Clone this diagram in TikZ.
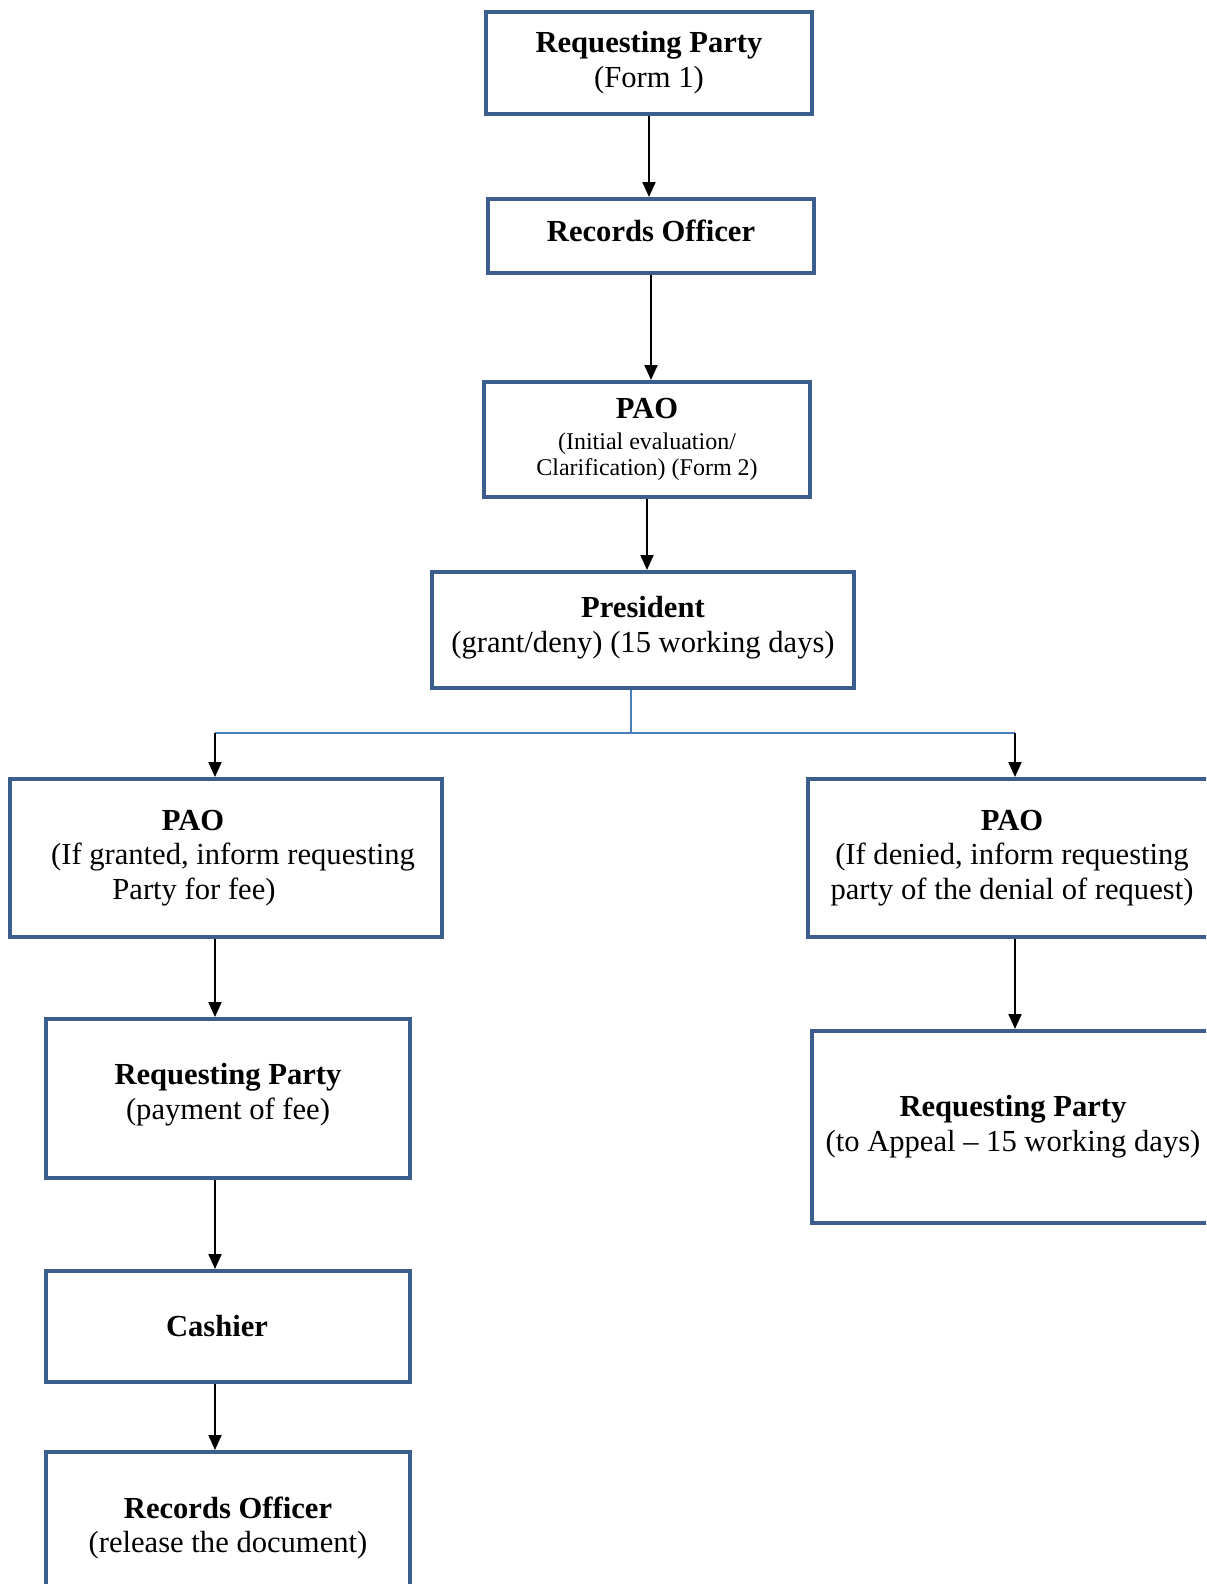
\documentclass[tikz,border=0pt]{standalone}
\usepackage{fontspec}
\setmainfont{Liberation Serif}
\usepackage{xcolor}
\usepackage{tikz}
\usetikzlibrary{arrows.meta}

\definecolor{boxblue}{RGB}{59,94,140}
\definecolor{lineblue}{RGB}{74,126,187}

\begin{document}
\begin{tikzpicture}[
    x=0.5pt, y=-0.5pt,
    font=\fontsize{15.3}{17.4}\selectfont,
    block/.style={draw=boxblue, line width=2pt, rectangle, align=center, inner sep=2pt},
    arr/.style={-{Triangle[width=6.5pt,length=7.5pt]}, line width=1pt},
    branch/.style={draw=lineblue, line width=0.6pt}
]

% page frame
\clip (0,0) rectangle (1206,1584);

% main column
\node[block, minimum width=163pt, minimum height=51pt] (req) at (649,63)
    {\textbf{Requesting Party}\\(Form 1)};
\node[block, minimum width=163pt, minimum height=37pt] (rec) at (651,236)
    {\textbf{Records Officer}\\[-12pt]};
\node[block, minimum width=163pt, minimum height=57.5pt] (pao) at (647,439.5)
    {\textbf{PAO}\\[-2pt]{\fontsize{12}{13.2}\selectfont (Initial evaluation/}\\[-4pt]{\fontsize{12}{13.2}\selectfont Clarification) (Form 2)}};
\node[block, minimum width=211pt, minimum height=58pt] (pres) at (643,630)
    {\textbf{President}\\(grant/deny) (15 working days)\\[-12pt]};

% branch points
\coordinate (split) at (631,733);
\coordinate (lx) at (215,733);
\coordinate (rx) at (1015,733);

% granted side
\node[block, minimum width=216pt, minimum height=79pt] (paoyes) at (226,858)
    {\textbf{PAO}\hspace*{33pt}\\\hspace*{7pt}(If granted, inform requesting\\Party for fee)\hspace*{32pt}};
\node[block, minimum width=182pt, minimum height=79.5pt] (pay) at (228,1098.5)
    {\textbf{Requesting Party}\\(payment of fee)\\[-10pt]};
\node[block, minimum width=182pt, minimum height=55.5pt] (cash) at (228,1326.5)
    {\textbf{Cashier}\hspace*{11pt}};
\node[block, minimum width=182pt, minimum height=76pt] (release) at (228,1528)
    {\textbf{Records Officer}\\(release the document)};

% denied side
\node[block, minimum width=204pt, minimum height=79pt] (paono) at (1012,858)
    {\textbf{PAO}\\(If denied, inform requesting\\party of the denial of request)};
\node[block, minimum width=201pt, minimum height=96pt] (appeal) at (1013,1127)
    {\textbf{Requesting Party}\\(to Appeal -- 15 working days)};

% arrows
\draw[arr] (req.south) -- (req.south |- rec.north);
\draw[arr] (rec.south) -- (rec.south |- pao.north);
\draw[arr] (pao.south) -- (pao.south |- pres.north);

\draw[branch] (pres.south -| split) -- (split);
\draw[branch] (lx) -- (rx);
\draw[arr] (lx) -- (lx |- paoyes.north);
\draw[arr] (rx) -- (rx |- paono.north);

\draw[arr] (paoyes.south -| lx) -- (pay.north -| lx);
\draw[arr] (pay.south -| lx) -- (cash.north -| lx);
\draw[arr] (cash.south -| lx) -- (release.north -| lx);
\draw[arr] (paono.south -| rx) -- (appeal.north -| rx);

\end{tikzpicture}
\end{document}
